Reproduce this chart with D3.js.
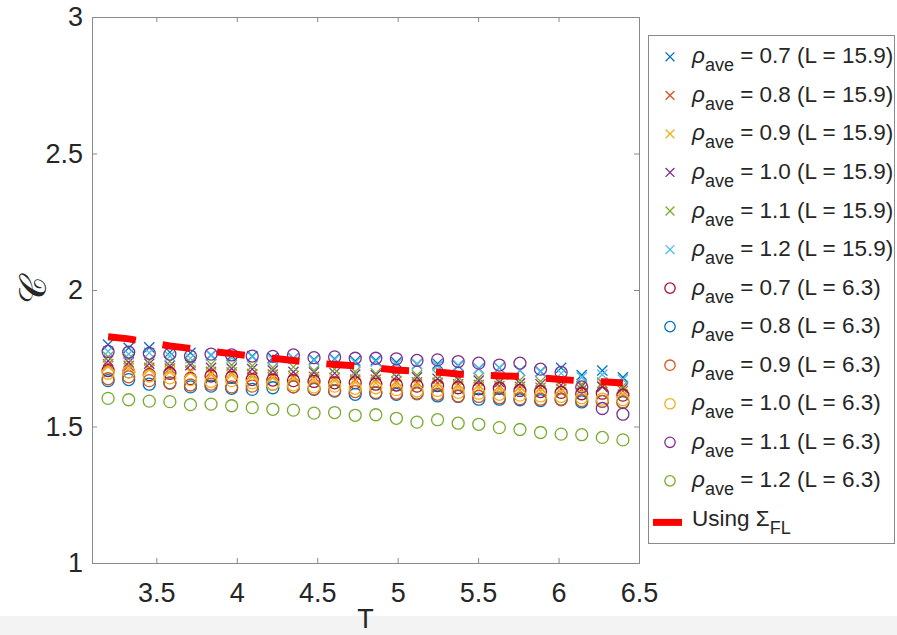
<!DOCTYPE html>
<html>
<head>
<meta charset="utf-8">
<script src="https://cdn.jsdelivr.net/npm/d3@7"></script>
<style>
  body { margin: 0; background: #fff; }
  text { font-family: "Liberation Sans", Arial, Helvetica, sans-serif; fill: #262626; }
</style>
</head>
<body>
<script>
var W = 897, H = 635;

// temperatures (x)
var T = [3.2, 3.328, 3.456, 3.584, 3.712, 3.84, 3.968, 4.096, 4.224, 4.352, 4.48, 4.608, 4.736,
         4.864, 4.992, 5.12, 5.248, 5.376, 5.504, 5.632, 5.76, 5.888, 6.016, 6.144, 6.272, 6.4];

var xTicks = [3.5, 4, 4.5, 5, 5.5, 6, 6.5];
var yTicks = [1, 1.5, 2, 2.5, 3];

// L = 15.9 (crosses)
var c07L16 = [1.800, 1.788, 1.790, 1.772, 1.770, 1.762, 1.760, 1.758, 1.752, 1.750, 1.745, 1.748, 1.740,
              1.742, 1.735, 1.728, 1.730, 1.722, 1.712, 1.715, 1.705, 1.702, 1.715, 1.688, 1.705, 1.680];
var c08L16 = [1.728, 1.722, 1.715, 1.712, 1.705, 1.700, 1.698, 1.692, 1.690, 1.685, 1.682, 1.678, 1.672,
              1.672, 1.665, 1.662, 1.660, 1.655, 1.652, 1.648, 1.645, 1.642, 1.638, 1.635, 1.660, 1.630];
var c09L16 = [1.720, 1.712, 1.708, 1.700, 1.698, 1.690, 1.688, 1.682, 1.678, 1.676, 1.670, 1.668, 1.662,
              1.660, 1.655, 1.652, 1.648, 1.645, 1.640, 1.638, 1.632, 1.630, 1.626, 1.622, 1.650, 1.618];
var c10L16 = [1.740, 1.735, 1.730, 1.722, 1.725, 1.715, 1.712, 1.710, 1.705, 1.700, 1.698, 1.695, 1.690,
              1.688, 1.683, 1.680, 1.675, 1.672, 1.668, 1.662, 1.658, 1.655, 1.652, 1.648, 1.645, 1.640];
var c11L16 = [1.755, 1.748, 1.742, 1.738, 1.735, 1.728, 1.725, 1.722, 1.715, 1.718, 1.705, 1.710, 1.700,
              1.695, 1.698, 1.688, 1.690, 1.682, 1.678, 1.672, 1.670, 1.665, 1.668, 1.655, 1.660, 1.648];
var c12L16 = [1.775, 1.765, 1.770, 1.758, 1.750, 1.760, 1.752, 1.755, 1.745, 1.748, 1.742, 1.745, 1.735,
              1.738, 1.728, 1.730, 1.722, 1.725, 1.712, 1.715, 1.705, 1.700, 1.695, 1.680, 1.690, 1.672];

// L = 6.3 (circles)
var c07L6 = [1.705, 1.700, 1.690, 1.695, 1.675, 1.685, 1.680, 1.672, 1.670, 1.668, 1.665, 1.660, 1.660,
             1.655, 1.652, 1.648, 1.650, 1.642, 1.638, 1.640, 1.632, 1.628, 1.625, 1.620, 1.622, 1.615];
var c08L6 = [1.668, 1.672, 1.655, 1.660, 1.645, 1.648, 1.640, 1.636, 1.642, 1.645, 1.636, 1.630, 1.618,
             1.622, 1.618, 1.622, 1.612, 1.610, 1.600, 1.600, 1.598, 1.595, 1.600, 1.590, 1.592, 1.588];
var c09L6 = [1.675, 1.682, 1.668, 1.658, 1.652, 1.655, 1.645, 1.648, 1.655, 1.645, 1.638, 1.632, 1.628,
             1.625, 1.622, 1.620, 1.618, 1.612, 1.610, 1.605, 1.602, 1.600, 1.598, 1.595, 1.592, 1.590];
var c10L6 = [1.695, 1.700, 1.685, 1.678, 1.672, 1.665, 1.668, 1.660, 1.655, 1.652, 1.645, 1.648, 1.640,
             1.642, 1.635, 1.630, 1.632, 1.625, 1.622, 1.618, 1.615, 1.612, 1.610, 1.605, 1.600, 1.598];
var c11L6 = [1.775, 1.772, 1.768, 1.765, 1.758, 1.765, 1.762, 1.758, 1.757, 1.762, 1.752, 1.755, 1.750,
             1.750, 1.748, 1.742, 1.744, 1.738, 1.732, 1.725, 1.732, 1.710, 1.698, 1.645, 1.566, 1.545];
var c12L6 = [1.603, 1.598, 1.593, 1.591, 1.580, 1.582, 1.576, 1.569, 1.563, 1.560, 1.549, 1.551, 1.541,
             1.543, 1.530, 1.516, 1.525, 1.512, 1.508, 1.496, 1.489, 1.478, 1.472, 1.470, 1.460, 1.451];

// Sigma_FL curve
var sigmaFL = [1.829, 1.821, 1.808, 1.795, 1.786, 1.775, 1.767, 1.758, 1.750, 1.742, 1.733, 1.727, 1.722,
               1.714, 1.707, 1.703, 1.700, 1.692, 1.689, 1.686, 1.683, 1.678, 1.672, 1.667, 1.664, 1.659];

var rhoLabels = ["0.7", "0.8", "0.9", "1.0", "1.1", "1.2"];
var colors16 = ["#0072BD", "#D95319", "#EDB120", "#7E2F8E", "#77AC30", "#4DBEEE"];
var colors6 = ["#A2142F", "#0072BD", "#D95319", "#EDB120", "#7E2F8E", "#77AC30"];
var vals16 = [c07L16, c08L16, c09L16, c10L16, c11L16, c12L16];
var vals6 = [c07L6, c08L6, c09L6, c10L6, c11L6, c12L6];

var series = [];
for (var i = 0; i < 6; i++) series.push({ rho: rhoLabels[i], L: "15.9", marker: "x", color: colors16[i], values: vals16[i] });
for (var i = 0; i < 6; i++) series.push({ rho: rhoLabels[i], L: "6.3", marker: "o", color: colors6[i], values: vals6[i] });

var svg = d3.select("body").append("svg")
    .attr("width", W)
    .attr("height", H);

svg.append("rect").attr("x", 0).attr("y", 0).attr("width", W).attr("height", H).attr("fill", "#fff");
svg.append("rect").attr("x", 0).attr("y", 616).attr("width", W).attr("height", H - 616).attr("fill", "#f3f3f3");

var x = d3.scaleLinear().domain([3.1, 6.5]).range([92, 639]);
var y = d3.scaleLinear().domain([1, 3]).range([563, 17]);

var fmt = function(d) { return String(d); };
var axisColor = "#8a8a8a";

function styleAxis(g) {
  g.select(".domain").remove();
  g.selectAll(".tick line").attr("stroke", axisColor);
  g.selectAll(".tick text").attr("fill", "#262626").style("font-size", "27px")
    .style("font-family", '"Liberation Sans", Arial, sans-serif');
}

svg.append("g").attr("transform", "translate(0,563)")
    .call(d3.axisBottom(x).tickValues(xTicks).tickFormat(fmt).tickSizeInner(-5).tickSizeOuter(0).tickPadding(20))
    .call(styleAxis);
svg.append("g").attr("transform", "translate(0,17)")
    .call(d3.axisTop(x).tickValues(xTicks).tickFormat("").tickSizeInner(-5).tickSizeOuter(0))
    .call(styleAxis);
svg.append("g").attr("transform", "translate(92,0)")
    .call(d3.axisLeft(y).tickValues(yTicks).tickFormat(fmt).tickSizeInner(-5).tickSizeOuter(0).tickPadding(9))
    .call(styleAxis);
svg.append("g").attr("transform", "translate(639,0)")
    .call(d3.axisRight(y).tickValues(yTicks).tickFormat("").tickSizeInner(-5).tickSizeOuter(0))
    .call(styleAxis);

svg.append("rect")
    .attr("x", 92.5).attr("y", 17.5).attr("width", 639 - 92).attr("height", 563 - 17)
    .attr("fill", "none").attr("stroke", axisColor).attr("stroke-width", 1);

// axis labels
svg.append("text").attr("x", 365.5).attr("y", 628)
    .attr("text-anchor", "middle").style("font-size", "27px").text("T");
svg.append("text").attr("transform", "translate(46,290) rotate(-90)")
    .attr("text-anchor", "middle")
    .style("font-family", '"DejaVu Serif", "Liberation Serif", serif')
    .style("font-size", "38px").text("\uD835\uDC9E");

function drawMarker(sel, type, color, r) {
  if (type === "o") {
    sel.append("circle").attr("r", r).attr("fill", "none").attr("stroke", color).attr("stroke-width", 1.3);
  } else {
    var s = r * 0.85;
    sel.append("path").attr("d", "M" + (-s) + "," + (-s) + "L" + s + "," + s + "M" + (-s) + "," + s + "L" + s + "," + (-s))
      .attr("fill", "none").attr("stroke", color).attr("stroke-width", 1.3);
  }
}

var plot = svg.append("g");
series.forEach(function(s) {
  plot.append("g").selectAll("g.pt")
      .data(s.values)
      .enter()
      .append("g")
      .attr("class", "pt")
      .attr("transform", function(d, i) { return "translate(" + x(T[i]) + "," + y(d) + ")"; })
      .each(function() { drawMarker(d3.select(this), s.marker, s.color, 6); });
});

var line = d3.line().x(function(d, i) { return x(T[i]); }).y(function(d) { return y(d); });
plot.append("path")
    .datum(sigmaFL)
    .attr("d", line)
    .attr("fill", "none")
    .attr("stroke", "#FF0000")
    .attr("stroke-width", 7)
    .attr("stroke-dasharray", "28,27");

// legend
var leg = svg.append("g");
leg.append("rect").attr("x", 648.5).attr("y", 35.5).attr("width", 246).attr("height", 508)
    .attr("fill", "#fff").attr("stroke", axisColor);

var rowY = function(k) { return 63.3 + 38.55 * k; };
series.forEach(function(s, k) {
  var g = leg.append("g");
  var m = g.append("g").attr("transform", "translate(670," + (rowY(k) - 6.5) + ")");
  drawMarker(m, s.marker, s.color, 5.2);
  var t = g.append("text").attr("x", 692).attr("y", rowY(k)).style("font-size", "22.5px");
  t.append("tspan").style("font-style", "italic").text("\u03C1");
  t.append("tspan").attr("dy", 8).style("font-size", "18px").text("ave");
  t.append("tspan").attr("dy", -8).text(" = " + s.rho + " (L = " + s.L + ")");
});

var k = 12;
leg.append("line").attr("x1", 653).attr("x2", 682).attr("y1", rowY(k) - 3.5).attr("y2", rowY(k) - 3.5)
    .attr("stroke", "#FF0000").attr("stroke-width", 7);
var t2 = leg.append("text").attr("x", 692).attr("y", rowY(k)).style("font-size", "22.5px");
t2.append("tspan").text("Using \u03A3");
t2.append("tspan").attr("dy", 8).style("font-size", "18px").text("FL");
</script>
</body>
</html>
